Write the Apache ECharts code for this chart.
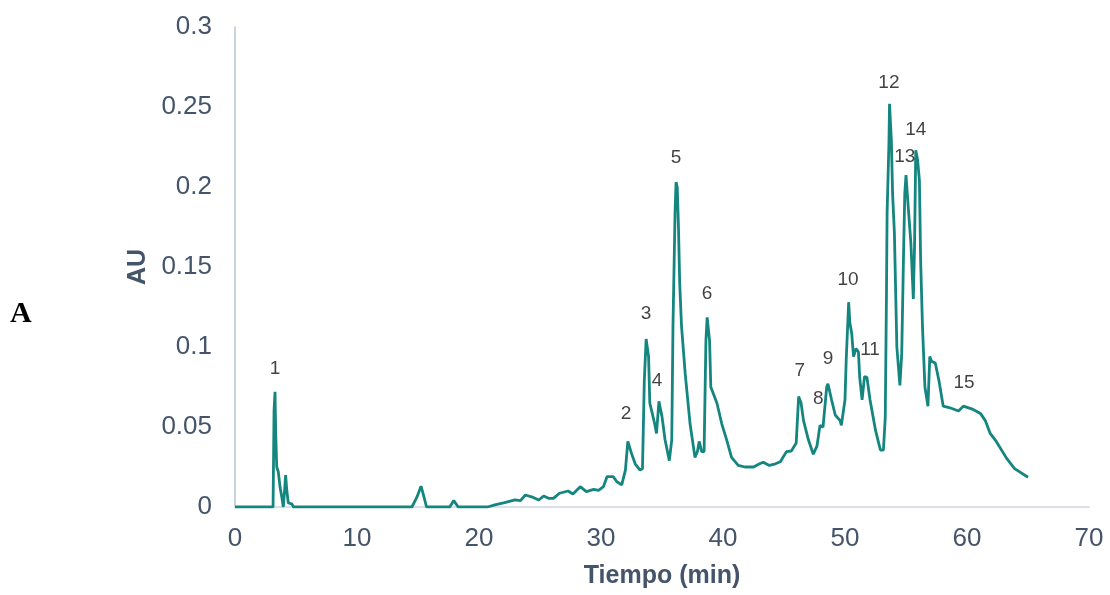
<!DOCTYPE html>
<html>
<head>
<meta charset="utf-8">
<script src="https://cdn.jsdelivr.net/npm/echarts@6/dist/echarts.min.js"></script>
<style>
    html, body { margin: 0; padding: 0; background: #fff; }
    #chart { width: 1110px; height: 595px; }
</style>
</head>
<body>
<div id="chart"></div>
<script>
    // chromatogram trace
    var tiempo = [0, 3.12, 3.2, 3.28, 3.34, 3.42, 3.55, 3.7, 3.83, 3.96, 4.08, 4.15, 4.25, 4.37, 4.5, 4.65, 4.8,
        14.5, 14.9, 15.25, 15.5, 15.7, 17.6, 17.93, 18.3,
        20.7, 21.3, 22.1, 22.95, 23.4, 23.8, 24.45, 24.9, 25.3, 25.7, 26.1, 26.6, 27.3, 27.7, 28.3, 28.8, 29.4, 29.8,
        30.2, 30.5, 31.0, 31.3, 31.7, 32.0, 32.2, 32.5, 32.8, 33.2, 33.4, 33.55, 33.7, 33.9, 34.0, 34.4, 34.55, 34.75,
        35.0, 35.25, 35.6, 35.8, 35.9, 36.07, 36.15, 36.25, 36.35, 36.45, 36.6, 36.9, 37.3, 37.7, 37.9, 38.05, 38.25,
        38.45, 38.6, 38.7, 38.9, 39.0, 39.5, 39.9, 40.3, 40.7, 41.25, 41.8, 42.5, 43.0, 43.3, 43.8, 44.3, 44.7,
        45.2, 45.6, 46.0, 46.2, 46.4, 46.6, 47.0, 47.4, 47.7, 47.95, 48.2, 48.5, 48.6, 48.9, 49.2, 49.6, 49.7,
        50.0, 50.1, 50.3, 50.4, 50.55, 50.7, 50.9, 51.1, 51.2, 51.4, 51.6, 51.8, 52.05, 52.5, 52.9, 53.15, 53.3,
        53.4, 53.45, 53.6, 53.65, 53.8, 53.9, 54.05, 54.25, 54.5, 54.65, 54.8, 54.9, 55.0, 55.2, 55.4, 55.6, 55.7,
        55.8, 55.95, 56.1, 56.2, 56.35, 56.55, 56.8, 56.95, 57.1, 57.4, 57.7, 58.05, 58.6, 59.3, 59.7, 60.5,
        61.1, 61.5, 61.9, 62.4, 63.25, 63.9, 65.0];
    var absorbancia = [0, 0, 0.060, 0.072, 0.045, 0.025, 0.022, 0.012, 0.0065, 0, 0.012, 0.020, 0.010, 0.0025, 0.003, 0.002, 0,
        0, 0.006, 0.013, 0.006, 0, 0, 0.004, 0,
        0, 0.0013, 0.0027, 0.0044, 0.004, 0.0075, 0.006, 0.0044, 0.0069, 0.0054, 0.0054, 0.0086, 0.010, 0.0081, 0.0127, 0.0096, 0.011, 0.0104,
        0.0127, 0.019, 0.019, 0.0158, 0.0138, 0.023, 0.041, 0.0335, 0.027, 0.023, 0.024, 0.079, 0.105, 0.094, 0.065, 0.052, 0.046, 0.066,
        0.0565, 0.042, 0.029, 0.042, 0.113, 0.184, 0.203, 0.200, 0.175, 0.14, 0.113, 0.0835, 0.052, 0.031, 0.0346, 0.041, 0.0346,
        0.0346, 0.104, 0.1185, 0.104, 0.075, 0.065, 0.052, 0.042, 0.031, 0.026, 0.025, 0.025, 0.027, 0.028, 0.026, 0.027, 0.0283,
        0.0346, 0.035, 0.040, 0.069, 0.065, 0.054, 0.042, 0.033, 0.038, 0.051, 0.050, 0.075, 0.077, 0.067, 0.0575, 0.054, 0.051,
        0.067, 0.092, 0.128, 0.115, 0.1085, 0.094, 0.099, 0.097, 0.0815, 0.067, 0.0815, 0.081, 0.067, 0.048, 0.0356, 0.0356, 0.056,
        0.134, 0.1835, 0.227, 0.252, 0.229, 0.196, 0.171, 0.100, 0.076, 0.096, 0.1585, 0.196, 0.2075, 0.1855, 0.165, 0.130, 0.163,
        0.223, 0.217, 0.204, 0.154, 0.113, 0.075, 0.063, 0.094, 0.091, 0.090, 0.079, 0.063, 0.062, 0.060, 0.063, 0.061,
        0.0585, 0.054, 0.046, 0.041, 0.0304, 0.024, 0.0186];

    // peak numbers and where they sit
    var picos = ['1', '2', '3', '4', '5', '6', '7', '8', '9', '10', '11', '12', '13', '14', '15'];
    var picoX = [3.28, 32.05, 33.7, 34.6, 36.15, 38.7, 46.3, 47.8, 48.6, 50.25, 52.05, 53.6, 54.9, 55.8, 59.75];
    var picoY = [0.0863, 0.058, 0.121, 0.079, 0.218, 0.133, 0.085, 0.0675, 0.0925, 0.142, 0.098, 0.265, 0.219, 0.236, 0.0775];

    var xTicks = [0, 10, 20, 30, 40, 50, 60, 70];
    var yTicks = [0, 0.05, 0.1, 0.15, 0.2, 0.25, 0.3];

    var traza = [];
    for (var i = 0; i < tiempo.length; i++) {
        traza.push([tiempo[i], absorbancia[i]]);
    }
    var etiquetas = [];
    for (var j = 0; j < picos.length; j++) {
        etiquetas.push({ value: [picoX[j], picoY[j]], name: picos[j] });
    }

    var chart = echarts.init(document.getElementById('chart'));
    var ejeColor = '#44546a';
    var option = {
        animation: false,
        grid: { left: 235, right: 21, top: 27, bottom: 88, containLabel: false },
        graphic: [{
            type: 'text',
            left: 10,
            top: 299,
            style: { text: 'A', font: 'bold 30px "Liberation Serif", serif', fill: '#000' }
        }],
        xAxis: {
            type: 'value',
            min: xTicks[0],
            max: xTicks[xTicks.length - 1],
            interval: 10,
            name: 'Tiempo (min)',
            nameLocation: 'middle',
            nameGap: 57,
            nameTextStyle: { color: ejeColor, fontSize: 25, fontWeight: 'bold', fontFamily: 'Liberation Sans' },
            axisLine: { show: true, lineStyle: { color: '#dcdfe6', width: 2 } },
            axisTick: { show: false },
            splitLine: { show: false },
            axisLabel: { color: ejeColor, fontSize: 26, fontFamily: 'Liberation Sans', margin: 19 }
        },
        yAxis: {
            type: 'value',
            min: yTicks[0],
            max: yTicks[yTicks.length - 1],
            interval: 0.05,
            name: 'AU',
            nameLocation: 'middle',
            nameGap: 84,
            nameTextStyle: { color: ejeColor, fontSize: 25, fontWeight: 'bold', fontFamily: 'Liberation Sans' },
            axisLine: { show: true, lineStyle: { color: '#b8c4d6', width: 1.5 } },
            axisTick: { show: false },
            splitLine: { show: false },
            axisLabel: {
                color: ejeColor, fontSize: 26, fontFamily: 'Liberation Sans', margin: 23,
                formatter: function (v) { return String(+v.toFixed(2)); }
            }
        },
        series: [{
            type: 'line',
            data: traza,
            showSymbol: false,
            lineStyle: { color: '#14867f', width: 2.8 },
            z: 2
        }, {
            type: 'scatter',
            data: etiquetas,
            symbolSize: 0,
            label: {
                show: true,
                position: 'inside',
                formatter: '{b}',
                color: '#111',
                fontSize: 19,
                fontFamily: 'Liberation Sans'
            },
            z: 3
        }]
    };
    chart.setOption(option);
</script>
</body>
</html>
